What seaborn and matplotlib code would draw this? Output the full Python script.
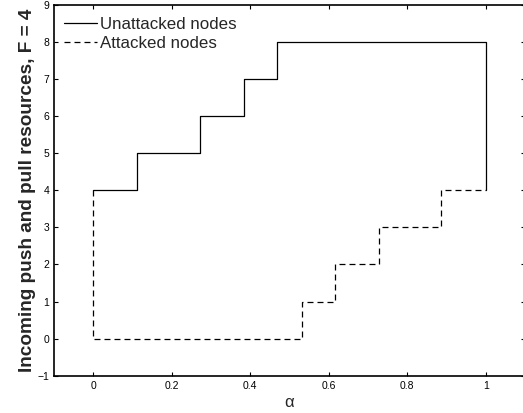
import matplotlib
matplotlib.use("Agg")
import matplotlib.pyplot as plt
import seaborn as sns
import pandas as pd

# Step profiles of incoming push/pull resources versus alpha
unattacked_alpha = [0.0, 0.111, 0.272, 0.385, 0.467, 1.0, 1.0]
unattacked_res = [4, 5, 6, 7, 8, 8, 4]

attacked_alpha = [0.0, 0.0, 0.533, 0.615, 0.728, 0.887, 1.0]
attacked_res = [4, 0, 1, 2, 3, 4, 4]

x_ticks = [0, 0.2, 0.4, 0.6, 0.8, 1]
x_tick_labels = ["0", "0.2", "0.4", "0.6", "0.8", "1"]
y_ticks = list(range(-1, 10))

sns.set_style("ticks")
plt.rcParams["font.family"] = ["Liberation Sans", "DejaVu Sans"]
plt.rcParams["lines.scale_dashes"] = False

df_u = pd.DataFrame({"alpha": unattacked_alpha, "res": unattacked_res})
df_a = pd.DataFrame({"alpha": attacked_alpha, "res": attacked_res})

fig = plt.figure(figsize=(5.23, 4.13), dpi=100)
ax = fig.add_axes([54 / 523, (413 - 375.7) / 413, (525 - 54) / 523, (375.7 - 4.7) / 413])

sns.lineplot(data=df_u, x="alpha", y="res", ax=ax, estimator=None, sort=False,
             drawstyle="steps-post", color="black", linewidth=0.9,
             label="Unattacked nodes")
sns.lineplot(data=df_a, x="alpha", y="res", ax=ax, estimator=None, sort=False,
             drawstyle="steps-post", color="black", linewidth=0.9,
             dashes=(4.3, 2.9), label="Attacked nodes")

ax.set_xlim(-0.1, 1.1)
ax.set_ylim(-1, 9)
ax.set_xticks(x_ticks)
ax.set_xticklabels(x_tick_labels)
ax.set_yticks(y_ticks)
ax.tick_params(direction="in", length=3, width=0.8, labelsize=7.5, pad=3.5,
               top=True, right=True, colors="black")
for s in ax.spines.values():
    s.set_visible(True)
    s.set_linewidth(1.2)
    s.set_color("black")

ax.set_xlabel("α", fontsize=12, labelpad=3)
ax.set_ylabel("Incoming push and pull resources, F = 4", fontsize=13.7,
              fontweight="bold", labelpad=1)

leg = ax.legend(loc="upper left", bbox_to_anchor=(0.022, 0.968), frameon=False,
                fontsize=12.2, handlelength=1.9, handletextpad=0.2,
                labelspacing=0.27, borderpad=0, borderaxespad=0)

fig.savefig("out.png", dpi=100)
